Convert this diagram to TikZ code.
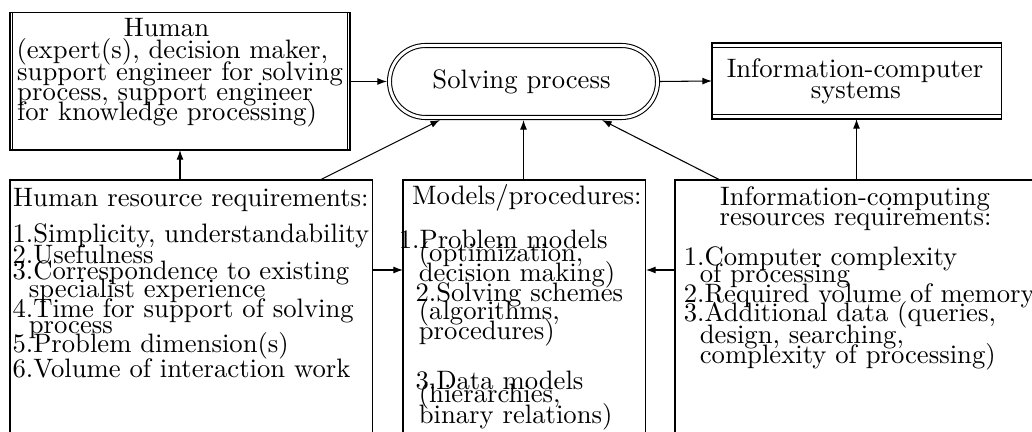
\documentclass[tikz,border=0pt]{standalone}
\usetikzlibrary{shapes.misc,arrows.meta,calc}
\begin{document}
\begin{tikzpicture}[x=0.375pt,y=-0.375pt,line width=0.4pt,
  arr/.style={-{Latex[length=3.6pt,width=2.6pt]}},
  lbl/.style={inner sep=0pt,anchor=base west},
  clbl/.style={inner sep=0pt,anchor=base},
  box/.style={draw,rectangle,inner sep=0pt,outer sep=0pt}]
\useasboundingbox (0,0) rectangle (1032,432);
\clip (0,0) rectangle (1032,432);
% top row
\node[box,minimum width=127.5pt,minimum height=51.4pt] (human) at (180,81.5) {};
\draw ([xshift=1pt]human.north west) -- ([xshift=1pt]human.south west);
\draw ([xshift=-1pt]human.north east) -- ([xshift=-1pt]human.south east);
\node[clbl] (h0) at (166.5,37) {Human};
\node[lbl] (h1) at (16,59) {(expert(s), decision maker,};
\node[lbl] (h2) at (16.7,80.5) {support engineer for solving};
\node[lbl] (h3) at (16.7,100.5) {process, support engineer};
\node[lbl] (h4) at (16.7,120.5) {for knowledge processing)};

\node[draw,double,double distance=1.1pt,rounded rectangle,inner sep=0pt,outer sep=0.95pt,
  minimum width=100.5pt,minimum height=27pt] (solve) at (523.5,81.5) {};
\node[clbl] (s0) at (521.5,88.3) {Solving process};

\node[box,minimum width=108.4pt,minimum height=28.5pt] (info) at (856.5,81) {};
\draw ([yshift=-1.65pt]info.north west) -- ([yshift=-1.65pt]info.north east);
\draw ([yshift=1.65pt]info.south west) -- ([yshift=1.65pt]info.south east);
\node[clbl] (i0) at (855,77.5) {Information-computer};
\node[clbl] (i1) at (855.8,99) {systems};

% bottom row
\node[box,anchor=north west,minimum width=136.1pt,minimum height=101pt] (hrr) at (10,180) {};
\node[box,anchor=north west,minimum width=91.1pt,minimum height=101pt] (models) at (403,180) {};
\node[box,anchor=north west,minimum width=138.75pt,minimum height=101pt] (icr) at (675,180) {};

\node[lbl] (r0) at (12.7,207) {Human resource requirements:};
\node[lbl] (r1) at (12,243) {1.Simplicity, understandability};
\node[lbl] (r2) at (12,264) {2.Usefulness};
\node[lbl] (r3) at (12,280) {3.Correspondence to existing};
\node[lbl] (r4) at (28.3,298) {specialist experience};
\node[lbl] (r5) at (12,318) {4.Time for support of solving};
\node[lbl] (r6) at (28.3,334) {process};
\node[lbl] (r7) at (12,353) {5.Problem dimension(s)};
\node[lbl] (r8) at (12,378) {6.Volume of interaction work};

\node[lbl] (m0) at (411.7,205) {Models/procedures:};
\node[lbl] (m1) at (398.3,249) {1.Problem models};
\node[lbl] (m2) at (418.3,262) {(optimization,};
\node[lbl] (m3) at (418.3,282) {decision making)};
\node[lbl] (m4) at (415,302) {2.Solving schemes};
\node[lbl] (m5) at (418.3,320) {(algorithms,};
\node[lbl] (m6) at (418.3,340) {procedures)};
\node[lbl] (m7) at (415,390) {3.Data models};
\node[lbl] (m8) at (418.3,403) {(hierarchies,};
\node[lbl] (m9) at (418.3,424) {binary relations)};

\node[clbl] (c0) at (855,206) {Information-computing};
\node[clbl] (c1) at (855.5,226) {resources requirements:};
\node[lbl] (c2) at (683.3,266) {1.Computer complexity};
\node[lbl] (c3) at (699.3,282.5) {of processing};
\node[lbl] (c4) at (683.3,302.5) {2.Required volume of memory};
\node[lbl] (c5) at (683.3,322) {3.Additional data (queries,};
\node[lbl] (c6) at (699.3,344) {design, searching,};
\node[lbl] (c7) at (699.3,364) {complexity of processing)};

% connectors
\draw[arr] (human.east) -- (solve.west);
\draw[arr] (solve.east) -- (info.west);
\draw[arr] (hrr.north -| human.south) -- (human.south);
\draw[arr] (solve.south |- models.north) -- (solve.south);
\draw[arr] (icr.north -| info.south) -- (info.south);
\draw[arr] ($(hrr.north west)+(310,0)$) -- ($(solve.south)+(-83.5,0)$);
\draw[arr] ($(icr.north west)+(45,0)$) -- ($(solve.south)+(78.5,0)$);
\draw[arr] ($(hrr.north east)+(0,90)$) -- ($(models.north west)+(0,90)$);
\draw[arr] ($(icr.north west)+(0,90)$) -- ($(models.north east)+(0,90)$);
\end{tikzpicture}
\end{document}
